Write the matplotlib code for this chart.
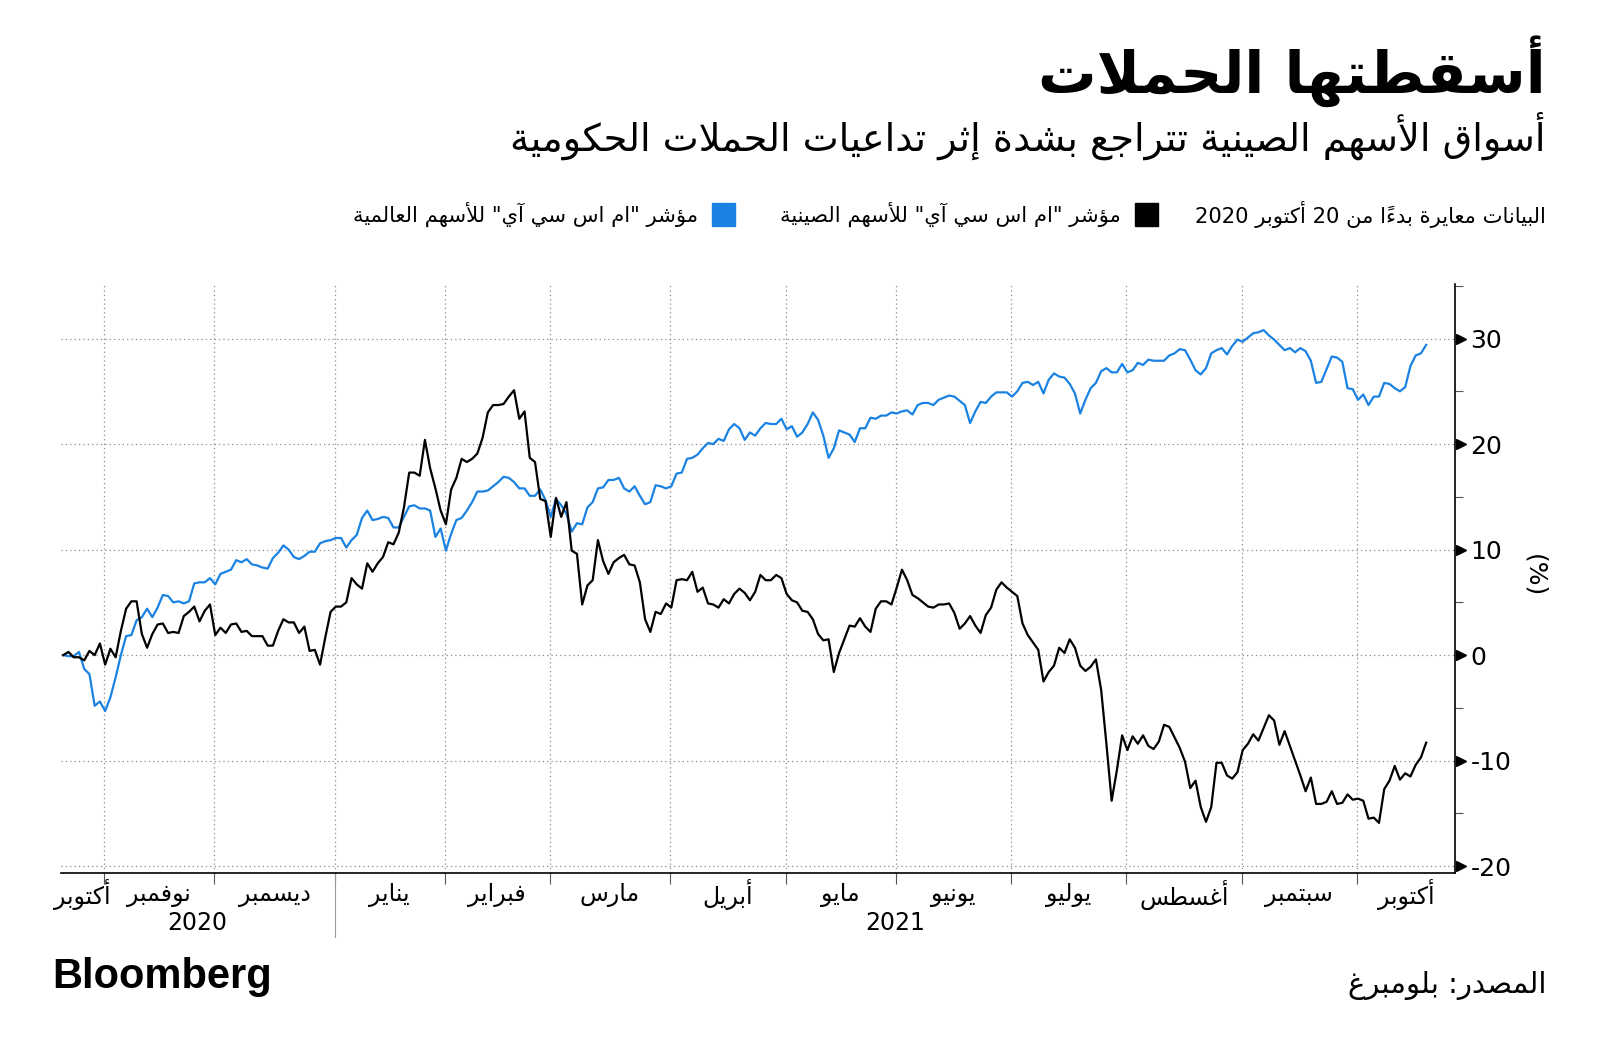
import numpy as np
import pandas as pd
import matplotlib
matplotlib.use("Agg")
import matplotlib.pyplot as plt
from matplotlib.patches import Rectangle
from matplotlib.ticker import FixedLocator, NullFormatter

plt.rcParams['font.family'] = ['DejaVu Sans']

# --- data (percent change since 20 Oct 2020, one value per weekday) ---
start_date = '2020-10-20'
china = [
    0.0, 0.3, -0.2, -0.2, -0.5, 0.4, 0.0, 1.1, -0.9, 0.6,
    -0.2, 2.3, 4.4, 5.1, 5.1, 2.0, 0.7, 2.0, 2.9, 3.0,
    2.1, 2.2, 2.1, 3.7, 4.1, 4.6, 3.2, 4.2, 4.8, 1.9,
    2.6, 2.1, 2.9, 3.0, 2.2, 2.3, 1.8, 1.8, 1.8, 0.9,
    0.9, 2.3, 3.4, 3.1, 3.1, 2.1, 2.7, 0.4, 0.5, -0.9,
    1.7, 4.1, 4.6, 4.6, 5.0, 7.3,
    6.7, 6.3, 8.7, 7.9, 8.7, 9.3, 10.7, 10.5, 11.6, 14.0,
    17.3, 17.3, 17.0, 20.4, 17.7, 15.8, 13.7, 12.4, 15.7, 16.8,
    18.6, 18.3, 18.6, 19.1, 20.6, 23.0, 23.7, 23.7, 23.8, 24.5,
    25.1, 22.4, 23.1, 18.7, 18.3, 14.8, 14.6, 11.2, 14.9, 13.1,
    14.5, 9.9, 9.6, 4.8, 6.6, 7.1, 10.9, 8.9, 7.7, 8.8,
    9.2, 9.5, 8.6, 8.5,
    6.9, 3.4, 2.2, 4.1, 3.9, 4.9, 4.5, 7.1, 7.2, 7.1,
    7.9, 6.0, 6.4, 4.9, 4.8, 4.5, 5.3, 4.9, 5.8, 6.3,
    5.9, 5.2, 6.0, 7.6, 7.1, 7.1, 7.6, 7.3, 5.8, 5.2,
    5.0, 4.2, 4.1, 3.4, 2.0, 1.4, 1.5, -1.6, 0.2, 1.5,
    2.8, 2.7, 3.5, 2.7, 2.2, 4.4, 5.1, 5.1, 4.8, 6.4,
    8.1, 7.1, 5.7, 5.4, 5.0, 4.6,
    4.5, 4.8, 4.8, 4.9, 4.0, 2.5, 3.0, 3.7, 2.8, 2.1,
    3.8, 4.5, 6.2, 6.9, 6.4, 6.0, 5.6, 3.0, 1.9, 1.2,
    0.5, -2.5, -1.6, -1.0, 0.7, 0.2, 1.5, 0.7, -1.0, -1.5,
    -1.1, -0.4, -3.3, -8.4, -13.8, -10.9, -7.6, -9.0, -7.7, -8.4,
    -7.6, -8.6, -8.9, -8.2, -6.6, -6.8, -7.8, -8.8, -10.1, -12.6,
    -11.9,
    -14.4, -15.8, -14.4, -10.2, -10.2, -11.4, -11.7, -11.1, -9.0, -8.4,
    -7.5, -8.1, -6.9, -5.7, -6.2, -8.5, -7.2, -8.6, -10.0, -11.4,
    -12.9, -11.6, -14.1, -14.1, -13.9, -12.9, -14.1, -14.0, -13.2, -13.7,
    -13.6, -13.8, -15.5, -15.4, -15.9, -12.7, -11.9, -10.5, -11.8, -11.2,
    -11.5, -10.4, -9.7, -8.3,
]
world = [
    0.0, -0.1, -0.1, 0.3, -1.3, -1.8, -4.8, -4.4, -5.3, -4.0,
    -2.1, 0.0, 1.8, 1.9, 3.3, 3.6, 4.4, 3.6, 4.5, 5.7,
    5.6, 5.0, 5.1, 4.9, 5.1, 6.8, 6.9, 6.9, 7.3, 6.7,
    7.7, 7.9, 8.1, 9.0, 8.8, 9.1, 8.6, 8.5, 8.3, 8.2,
    9.2, 9.7, 10.4, 10.0, 9.3, 9.1, 9.4, 9.8, 9.8, 10.6,
    10.8, 10.9, 11.1, 11.1, 10.2, 10.9,
    11.4, 13.0, 13.7, 12.8, 12.9, 13.1, 13.0, 12.1, 12.1, 13.1,
    14.1, 14.2, 13.9, 13.9, 13.7, 11.2, 12.0, 9.9, 11.5, 12.8,
    13.0, 13.7, 14.5, 15.5, 15.5, 15.6, 16.0, 16.4, 16.9, 16.8,
    16.4, 15.8, 15.8, 15.1, 15.1, 15.7, 14.7, 13.1, 14.8, 14.2,
    13.4, 11.7, 12.5, 12.4, 14.0, 14.5, 15.8, 15.9, 16.6, 16.6,
    16.8, 15.8, 15.5, 16.0,
    15.1, 14.3, 14.5, 16.1, 16.0, 15.8, 16.0, 17.2, 17.3, 18.6,
    18.7, 19.0, 19.6, 20.1, 20.0, 20.5, 20.3, 21.4, 21.9, 21.5,
    20.4, 21.1, 20.8, 21.5, 22.0, 21.9, 21.9, 22.4, 21.4, 21.7,
    20.7, 21.1, 21.9, 23.0, 22.3, 20.8, 18.7, 19.6, 21.3, 21.1,
    20.9, 20.2, 21.5, 21.5, 22.5, 22.4, 22.7, 22.7, 23.0, 22.9,
    23.1, 23.2, 22.8, 23.7, 23.9, 23.9,
    23.7, 24.2, 24.4, 24.6, 24.5, 24.1, 23.7, 22.0, 23.1, 24.0,
    23.9, 24.5, 24.9, 24.9, 24.9, 24.5, 25.0, 25.8, 25.9, 25.6,
    25.9, 24.8, 26.1, 26.7, 26.4, 26.3, 25.7, 24.8, 22.9, 24.2,
    25.3, 25.8, 26.9, 27.2, 26.8, 26.8, 27.6, 26.8, 27.0, 27.7,
    27.5, 28.0, 27.9, 27.9, 27.9, 28.4, 28.6, 29.0, 28.9, 28.0,
    27.0,
    26.6, 27.2, 28.6, 28.9, 29.1, 28.5, 29.3, 29.9, 29.7, 30.1,
    30.5, 30.6, 30.8, 30.3, 29.9, 29.4, 28.9, 29.1, 28.7, 29.1,
    28.8, 27.9, 25.8, 25.9, 27.1, 28.3, 28.2, 27.8, 25.3, 25.2,
    24.2, 24.7, 23.7, 24.5, 24.5, 25.8, 25.7, 25.3, 25.0, 25.4,
    27.4, 28.4, 28.6, 29.4,
]
month_names = ['أكتوبر', 'نوفمبر', 'ديسمبر', 'يناير', 'فبراير', 'مارس', 'أبريل',
               'مايو', 'يونيو', 'يوليو', 'أغسطس', 'سبتمبر', 'أكتوبر']
years = ['2020', '2021']
yticks = [-20, -10, 0, 10, 20, 30]
ytick_labels = ['-20', '-10', '0', '10', '20', '30']

title = 'أسقطتها الحملات'
subtitle = 'أسواق الأسهم الصينية تتراجع بشدة إثر تداعيات الحملات الحكومية'
note = 'البيانات معايرة بدءاً من 20 أكتوبر 2020'
china_label = 'مؤشر "ام اس سي آي" للأسهم الصينية'
world_label = 'مؤشر "ام اس سي آي" للأسهم العالمية'
source = 'المصدر: بلومبرغ'

BLUE = '#1a82e2'

# --- minimal arabic shaping (matplotlib has no complex text layout) ---
AR4 = dict(zip('ئبتثجحخسشصضطظعغفقكلمنهي',
               [0xFE89, 0xFE8F, 0xFE95, 0xFE99, 0xFE9D, 0xFEA1, 0xFEA5, 0xFEB1,
                0xFEB5, 0xFEB9, 0xFEBD, 0xFEC1, 0xFEC5, 0xFEC9, 0xFECD, 0xFED1,
                0xFED5, 0xFED9, 0xFEDD, 0xFEE1, 0xFEE5, 0xFEE9, 0xFEF1]))
AR2 = dict(zip('آأؤإاةدذرزوى',
               [0xFE81, 0xFE83, 0xFE85, 0xFE87, 0xFE8D, 0xFE93, 0xFEA9, 0xFEAB,
                0xFEAD, 0xFEAF, 0xFEED, 0xFEEF]))
LAM_ALEF = {'آ': 0xFEF5, 'أ': 0xFEF7, 'إ': 0xFEF9, 'ا': 0xFEFB}
MARKS = set('\u064b\u064c\u064d\u064e\u064f\u0650\u0651\u0652')
MIRROR = {'(': ')', ')': '('}


def shape(s):
    toks = []
    i = 0
    while i < len(s):
        c = s[i]
        if c == 'ل' and i + 1 < len(s) and s[i + 1] in LAM_ALEF:
            toks.append(['2', LAM_ALEF[s[i + 1]], c])
            i += 2
            continue
        if c in AR4:
            toks.append(['4', AR4[c], c])
        elif c in AR2:
            toks.append(['2', AR2[c], c])
        elif c == 'ء':
            toks.append(['1', 0xFE80, c])
        elif c in MARKS:
            toks.append(['m', 0, c])
        else:
            toks.append(['o', 0, c])
        i += 1

    out = []
    for j, (k, base, c) in enumerate(toks):
        if k in '42':
            p = j - 1
            while p >= 0 and toks[p][0] == 'm':
                p -= 1
            n = j + 1
            while n < len(toks) and toks[n][0] == 'm':
                n += 1
            jp = p >= 0 and toks[p][0] == '4'
            jn = k == '4' and n < len(toks) and toks[n][0] in '42'
            if k == '4':
                off = 3 if (jp and jn) else 1 if jp else 2 if jn else 0
            else:
                off = 1 if jp else 0
            out.append(chr(base + off))
        elif k == '1':
            out.append(chr(base))
        else:
            out.append(c)

    # clusters: base + following marks
    clusters = []
    for j, c in enumerate(out):
        if toks[j][0] == 'm' and clusters:
            clusters[-1] += c
        else:
            clusters.append(c)

    # runs: digits stay left-to-right, the rest is reversed
    runs = []
    for cl in clusters:
        ltr = cl[0].isascii() and cl[0].isalnum()
        if runs and runs[-1][0] == ltr:
            runs[-1][1].append(cl)
        else:
            runs.append([ltr, [cl]])
    res = ''
    for ltr, cls in reversed(runs):
        if ltr:
            res += ''.join(cls)
        else:
            res += ''.join(MIRROR.get(cl, cl) for cl in reversed(cls))
    return res


W, H = 1600, 1054


def fx(px):
    return px / W


def fy(py):
    return 1 - py / H


fig = plt.figure(figsize=(W / 100, H / 100), dpi=100)
ax = fig.add_axes([fx(60.6), fy(872.5), fx(1455 - 60.6), (872.5 - 283.7) / H])

x = np.arange(len(china))
ax.plot(x, world, color=BLUE, lw=1.6, zorder=3)
ax.plot(x, china, color='black', lw=1.6, zorder=4)

x_left, x_right = -0.5, 265.5
ax.set_xlim(x_left, x_right)
ax.set_ylim(-20.6, 35.2)

# month boundaries from the weekday calendar
dates = pd.bdate_range(start_date, periods=len(china))
first_idx = [i for i in range(1, len(dates)) if dates[i].month != dates[i - 1].month]
bounds = [i - 1.2 for i in first_idx]

ax.xaxis.set_major_locator(FixedLocator(bounds))
ax.xaxis.set_major_formatter(NullFormatter())
ax.tick_params(axis='x', length=8, width=0.8, color='#555555', direction='out')
ax.grid(axis='x', ls=(0, (1, 2.5)), color='#8a8a8a', lw=0.9)

ax.yaxis.tick_right()
ax.set_yticks(yticks)
ax.set_yticklabels(ytick_labels)
ax.yaxis.set_minor_locator(FixedLocator([-15, -5, 5, 15, 25, 35]))
ax.tick_params(axis='y', which='major', length=0, pad=11, labelsize=18)
ax.tick_params(axis='y', which='minor', length=6, width=0.8, color='#555555')
ax.grid(axis='y', ls=(0, (1, 2.5)), color='#8a8a8a', lw=0.9)
ax.plot([1.004] * len(yticks), yticks, transform=ax.get_yaxis_transform(),
        ls='none', marker='>', ms=7, color='black', clip_on=False, zorder=5)

for side in ['top', 'left']:
    ax.spines[side].set_visible(False)
for side in ['bottom', 'right']:
    ax.spines[side].set_linewidth(1.2)
    ax.spines[side].set_color('black')

# month labels centred in each month
edges = [x_left] + bounds + [x_right]
tr = ax.get_xaxis_transform()
for k, name in enumerate(month_names):
    ax.text((edges[k] + edges[k + 1]) / 2, -0.038, shape(name), transform=tr,
            ha='center', va='center', fontsize=17)
jan = bounds[2]
ax.text((x_left + jan) / 2, -0.085, years[0], transform=tr, ha='center', va='center', fontsize=17)
ax.text((jan + x_right) / 2, -0.085, years[1], transform=tr, ha='center', va='center', fontsize=17)
ax.plot([jan, jan], [0, -0.11], transform=tr, color='#999999', lw=0.8, clip_on=False)

ax.text(1.057, 0.505, '(%)', transform=ax.transAxes, rotation=270,
        ha='center', va='center', fontsize=18)

# header
fig.text(fx(1546), fy(71), shape(title), ha='right', va='center',
         fontsize=42, fontweight='bold')
fig.text(fx(1546), fy(136), shape(subtitle), ha='right', va='center', fontsize=27.5)

fig.text(fx(1546), fy(214), shape(note), ha='right', va='center', fontsize=15.2)
fig.patches.append(Rectangle((fx(1135), fy(226)), fx(23), 23 / H,
                             transform=fig.transFigure, color='black'))
fig.text(fx(1121), fy(214), shape(china_label), ha='right', va='center', fontsize=15.2)
fig.patches.append(Rectangle((fx(712), fy(226)), fx(23), 23 / H,
                             transform=fig.transFigure, color=BLUE))
fig.text(fx(698), fy(214), shape(world_label), ha='right', va='center', fontsize=15.2)

# footer
fig.text(fx(52), fy(977), 'Bloomberg', ha='left', va='center',
         fontsize=30, fontweight='bold', family='Liberation Sans')
fig.text(fx(1546), fy(985), shape(source), ha='right', va='center', fontsize=21)

fig.savefig('out.png', dpi=100)
